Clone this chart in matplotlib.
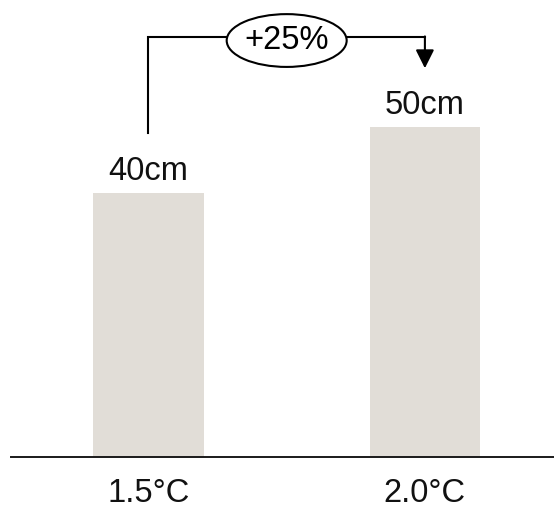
import numpy as np
import matplotlib
matplotlib.use("Agg")
import matplotlib.pyplot as plt
from matplotlib.patches import Ellipse

# data
scenarios = ["1.5°C", "2.0°C"]
rise_cm = [40, 50]

plt.rcParams["font.family"] = ["Liberation Sans", "DejaVu Sans"]
FS = 23.5

fig = plt.figure(figsize=(5.54, 5.08), dpi=100)
ax = fig.add_axes([0, 0, 1, 1])
ax.axis("off")

x = np.arange(len(scenarios))
ax.bar(x, rise_cm, width=0.4, color="#e1ddd7", zorder=1)
ax.set_xlim(-0.537, 1.467)
ax.set_ylim(-7.73, 69.24)

# baseline
ax.axhline(0, xmin=11 / 554, xmax=1, color="#1a1a1a", lw=1.4, zorder=2)

# value labels and category labels
for xi, v, name in zip(x, rise_cm, scenarios):
    ax.annotate(f"{v}cm", (xi, v), xytext=(0, 9.7), textcoords="offset points",
                ha="center", va="baseline", fontsize=FS, color="#111111")
    ax.annotate(name, (xi, 0), xytext=(0, -32.4), textcoords="offset points",
                ha="center", va="baseline", fontsize=FS, color="#111111")

# bracket with percentage change
pct = (rise_cm[1] - rise_cm[0]) / rise_cm[0] * 100
bracket_y = max(rise_cm) + 13.6
start_y = rise_cm[0] + 9.1
tip_y = rise_cm[1] + 8.9
ax.plot([x[0], x[0], x[1]], [start_y, bracket_y, bracket_y],
        color="black", lw=1.5, solid_joinstyle="miter", zorder=3)
ax.annotate("", xy=(x[1], tip_y), xytext=(x[1], bracket_y + 0.12),
            arrowprops=dict(arrowstyle="-|>", color="black", lw=1.5,
                            mutation_scale=28, shrinkA=0, shrinkB=0),
            zorder=3)
mid = (x[0] + x[1]) / 2
ax.add_patch(Ellipse((mid, bracket_y - 0.5), width=0.434, height=8.0,
                     facecolor="white", edgecolor="black", lw=1.5, zorder=4))
ax.text(mid, bracket_y - 0.45, f"+{pct:.0f}%", ha="center", va="center",
        fontsize=FS, color="black", zorder=5)

fig.savefig("out.png", dpi=100)
